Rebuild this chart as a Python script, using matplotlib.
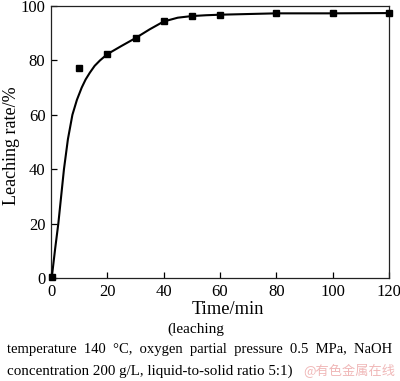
import matplotlib
matplotlib.use("Agg")
import matplotlib.pyplot as plt

# measured data points
time_pts = [0.3, 10, 20, 30, 40, 50, 60, 80, 100, 120]
rate_pts = [0.5, 77.1, 82.5, 88.3, 94.6, 96.3, 96.8, 97.4, 97.3, 97.4]

# fitted curve
curve_t = [0.3, 1.5, 2.6, 3.6, 4.6, 6.0, 7.6, 9.2, 10.9, 12.3, 13.8, 15.5, 17.4, 20, 25, 30, 35, 40, 45, 50, 55, 60, 80, 100, 120]
curve_v = [0.4, 11, 20, 30, 40, 51, 60, 65.5, 70, 73, 75.5, 78, 80, 82.3, 85.3, 88.2, 91.4, 94.3, 95.7, 96.3, 96.6, 96.8, 97.3, 97.3, 97.4]

x_ticks = [0, 20, 40, 60, 80, 100, 120]
y_ticks = [0, 20, 40, 60, 80, 100]

plt.rcParams['font.family'] = ['Liberation Serif', 'DejaVu Serif']

fig = plt.figure(figsize=(4.0, 3.81), dpi=100)
ax = fig.add_axes([51/400, 1-278/381, 338/400, 272/381])

ax.plot(curve_t, curve_v, color='black', lw=1.5, clip_on=False, zorder=3)
ax.plot(time_pts, rate_pts, linestyle='none', marker='s', ms=4.5, color='black', clip_on=False, zorder=4)

ax.set_xlim(0, 120)
ax.set_ylim(0, 100)
ax.set_xticks(x_ticks)
ax.set_yticks(y_ticks)
ax.tick_params(direction='in', length=4.5, width=0.9, labelsize=12, pad=4)
for s in ax.spines.values():
    s.set_linewidth(0.9)
    s.set_color('#222222')

fig.text(228/400, 1-310/381, 'Time/min', ha='center', va='center', fontsize=13.2)
fig.text(12/400, 1-146/381, 'Leaching rate/%', ha='center', va='center', rotation=90, fontsize=13)

fig.text(196/400, 1-329/381, '(leaching', ha='center', va='center', fontsize=11)
fig.text(7/400, 1-349/381, 'temperature  140  °C,  oxygen  partial  pressure  0.5  MPa,  NaOH', ha='left', va='center', fontsize=10.5)
fig.text(7/400, 1-371/381, 'concentration 200 g/L, liquid-to-solid ratio 5:1)', ha='left', va='center', fontsize=10.8)
fig.text(395/400, 1-371/381, '@有色金属在线', ha='right', va='center', fontsize=9.5,
         color='#f0b8b8', family=['Noto Sans CJK SC', 'DejaVu Sans'])

fig.savefig('out.png', dpi=100)
